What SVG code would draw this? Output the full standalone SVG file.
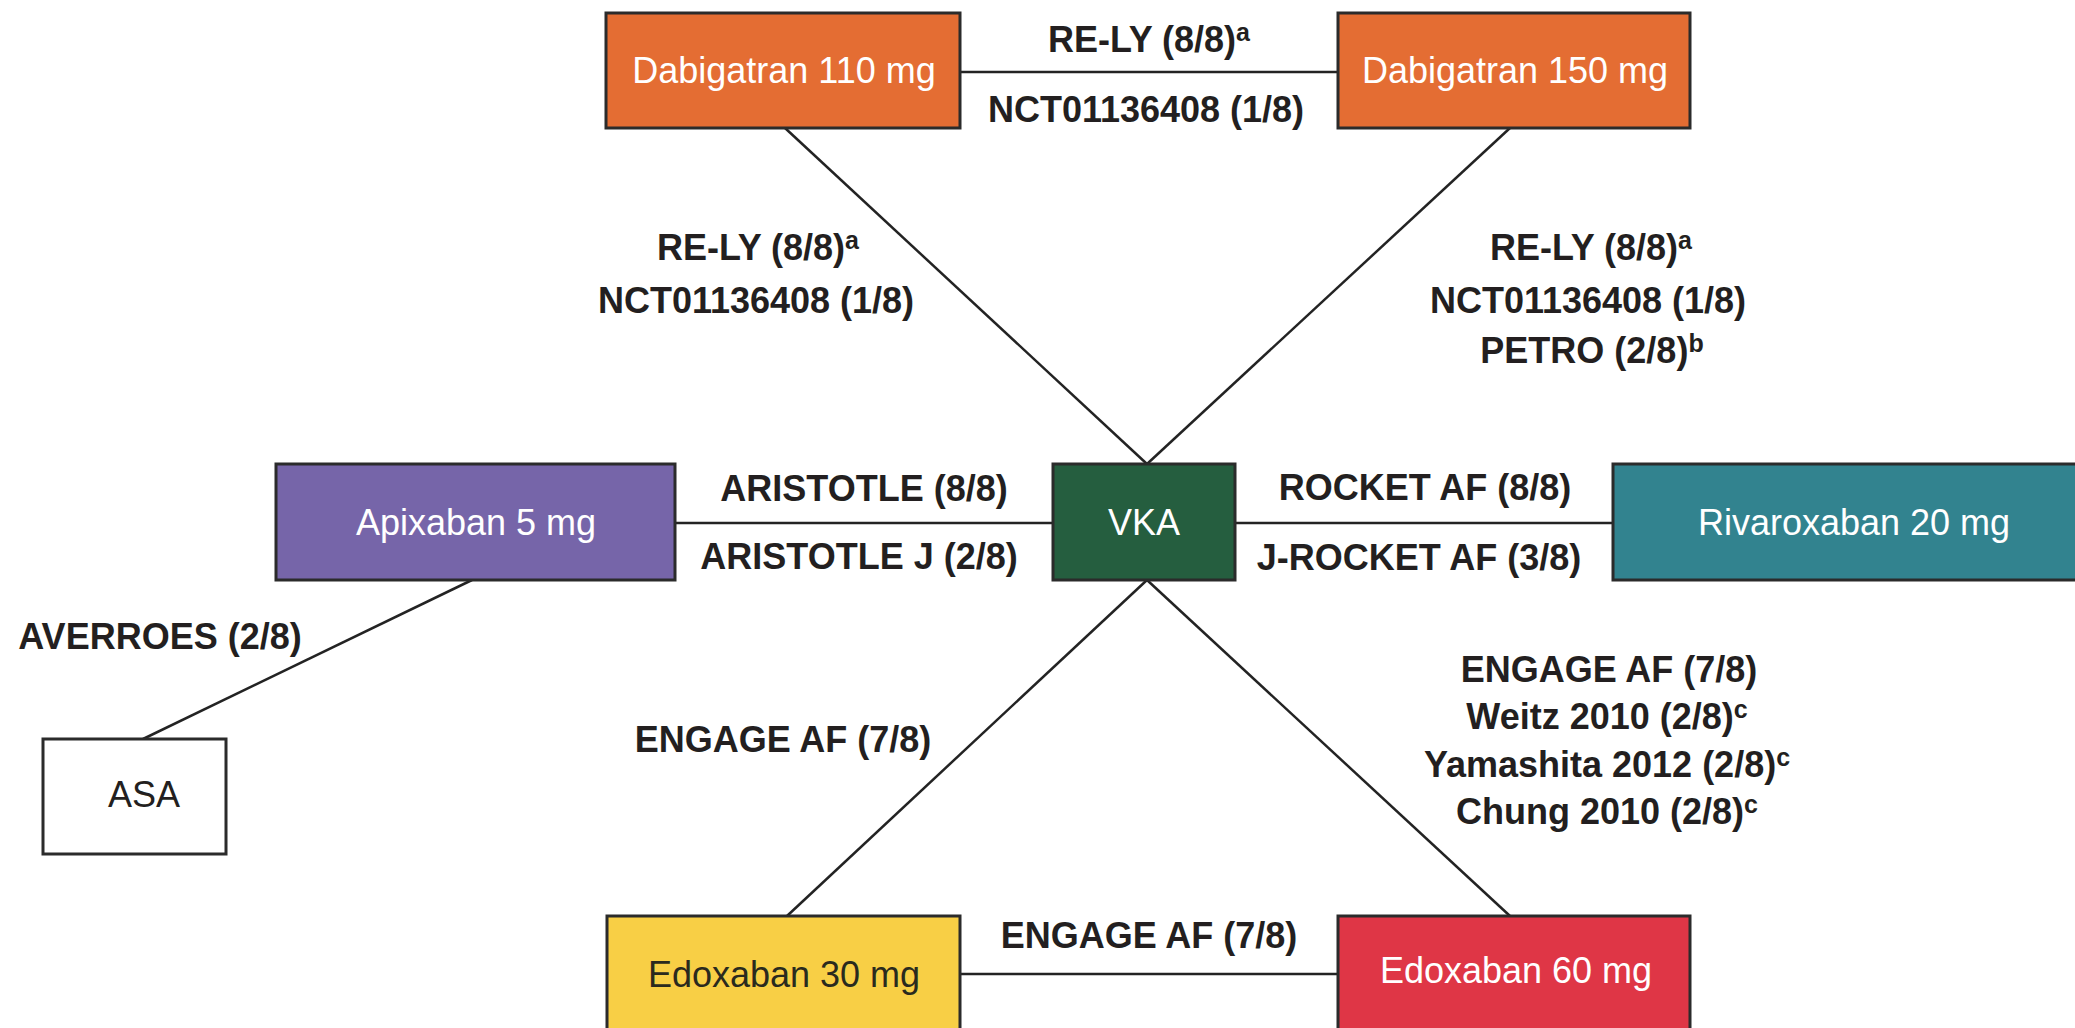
<svg xmlns="http://www.w3.org/2000/svg" width="2075" height="1028" viewBox="0 0 2075 1028">
<style>
.box{stroke:#2b2b2b;stroke-width:3}
.nl{font-family:"Liberation Sans",Arial,sans-serif;font-size:36px;text-anchor:middle;fill:#ffffff}
.lb{font-family:"Liberation Sans",Arial,sans-serif;font-size:36px;font-weight:bold;text-anchor:middle;fill:#231f20}
.sup{font-size:25px}
.edge{stroke:#232323;stroke-width:2.5;fill:none}
</style>
<rect width="2075" height="1028" fill="#ffffff"/>
<g id="connectors">
<line class="edge" x1="960" y1="72" x2="1338" y2="72"/>
<line class="edge" x1="785" y1="128" x2="1147" y2="464"/>
<line class="edge" x1="1510" y1="128" x2="1147" y2="464"/>
<line class="edge" x1="675" y1="523" x2="1053" y2="523"/>
<line class="edge" x1="1235" y1="523" x2="1613" y2="523"/>
<line class="edge" x1="472" y1="580" x2="143" y2="739"/>
<line class="edge" x1="1147" y1="580" x2="787" y2="916"/>
<line class="edge" x1="1147" y1="580" x2="1510" y2="916"/>
<line class="edge" x1="960" y1="974" x2="1338" y2="974"/>
</g>
<g id="edge-labels">
<text class="lb" x="1149" y="52">RE-LY (8/8)<tspan class="sup" dy="-11">a</tspan></text>
<text class="lb" x="1146" y="122">NCT01136408 (1/8)</text>
<text class="lb" x="758" y="260">RE-LY (8/8)<tspan class="sup" dy="-11">a</tspan></text>
<text class="lb" x="756" y="313">NCT01136408 (1/8)</text>
<text class="lb" x="1591" y="260">RE-LY (8/8)<tspan class="sup" dy="-11">a</tspan></text>
<text class="lb" x="1588" y="313">NCT01136408 (1/8)</text>
<text class="lb" x="1592" y="363">PETRO (2/8)<tspan class="sup" dy="-11">b</tspan></text>
<text class="lb" x="864" y="501">ARISTOTLE (8/8)</text>
<text class="lb" x="859" y="569">ARISTOTLE J (2/8)</text>
<text class="lb" x="1425" y="500">ROCKET AF (8/8)</text>
<text class="lb" x="1419" y="570">J-ROCKET AF (3/8)</text>
<text class="lb" x="160" y="649">AVERROES (2/8)</text>
<text class="lb" x="783" y="752">ENGAGE AF (7/8)</text>
<text class="lb" x="1609" y="682">ENGAGE AF (7/8)</text>
<text class="lb" x="1607" y="729">Weitz 2010 (2/8)<tspan class="sup" dy="-11">c</tspan></text>
<text class="lb" x="1607" y="777">Yamashita 2012 (2/8)<tspan class="sup" dy="-11">c</tspan></text>
<text class="lb" x="1607" y="824">Chung 2010 (2/8)<tspan class="sup" dy="-11">c</tspan></text>
<text class="lb" x="1149" y="948">ENGAGE AF (7/8)</text>
</g>
<g id="node-dabigatran110">
<rect class="box" x="606" y="13" width="354" height="115" fill="#e46d33"/>
<text class="nl" x="784" y="83">Dabigatran 110 mg</text>
</g>
<g id="node-dabigatran150">
<rect class="box" x="1338" y="13" width="352" height="115" fill="#e46d33"/>
<text class="nl" x="1515" y="83">Dabigatran 150 mg</text>
</g>
<g id="node-apixaban">
<rect class="box" x="276" y="464" width="399" height="116" fill="#7665a9"/>
<text class="nl" x="476" y="535">Apixaban 5 mg</text>
</g>
<g id="node-vka">
<rect class="box" x="1053" y="464" width="182" height="116" fill="#255e3f"/>
<text class="nl" x="1144" y="535">VKA</text>
</g>
<g id="node-rivaroxaban">
<rect class="box" x="1613" y="464" width="490" height="116" fill="#32838f"/>
<text class="nl" x="1854" y="535">Rivaroxaban 20 mg</text>
</g>
<g id="node-asa">
<rect class="box" x="43" y="739" width="183" height="115" fill="#ffffff"/>
<text class="nl" x="144" y="807" style="fill:#231f20">ASA</text>
</g>
<g id="node-edoxaban30">
<rect class="box" x="607" y="916" width="353" height="130" fill="#f8cf45"/>
<text class="nl" x="784" y="987" style="fill:#2a2a1e">Edoxaban 30 mg</text>
</g>
<g id="node-edoxaban60">
<rect class="box" x="1338" y="916" width="352" height="130" fill="#df3646"/>
<text class="nl" x="1516" y="983">Edoxaban 60 mg</text>
</g>
</svg>
